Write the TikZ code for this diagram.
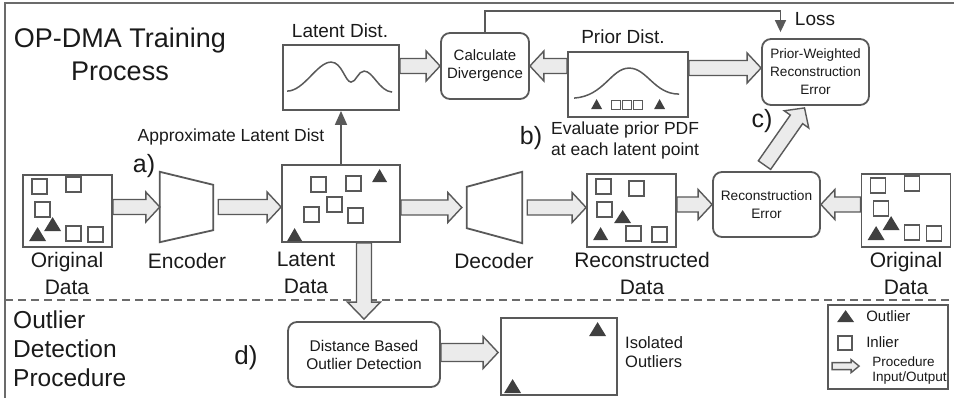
\documentclass[tikz,border=0pt]{standalone}
\usepackage{fontspec}
\setmainfont{Liberation Sans}
\usetikzlibrary{calc,arrows.meta}

\definecolor{lineclr}{HTML}{595959}
\definecolor{inkclr}{HTML}{1A1A1A}
\definecolor{outfill}{HTML}{404040}
\definecolor{pipefill}{HTML}{EBEBEB}
\definecolor{borderclr}{HTML}{6B6B6B}

\newcommand{\fsz}[2]{\fontsize{#1}{#2}\selectfont}

% block arrow between two points: shaft half-width, wing half-width, head length
\def\fashaft{7.5pt}\def\fawing{15pt}\def\fahead{14pt}
\newcommand{\fatarrow}[2]{%
  \coordinate (fa-s) at (#1);
  \coordinate (fa-e) at (#2);
  \coordinate (fa-h) at ($(fa-e)!\fahead!(fa-s)$);
  \draw[pipearrow] ($(fa-s)!\fashaft!90:(fa-e)$) -- ($(fa-h)!\fashaft!90:(fa-e)$)
    -- ($(fa-h)!\fawing!90:(fa-e)$) -- (fa-e) -- ($(fa-h)!\fawing!-90:(fa-e)$)
    -- ($(fa-h)!\fashaft!-90:(fa-e)$) -- ($(fa-s)!\fashaft!-90:(fa-e)$) -- cycle;}

% inlier square (top-left corner, optional size) and outlier triangle (base-left corner, width, height)
\newcommand{\inl}[3][15]{\draw[inlier] (#2,#3) rectangle ++(#1,#1);}
\newcommand{\outl}[4]{\fill[outfill] (#1,#2) -- ++(#3,0) -- ++(-#3/2,-#4) -- cycle;}
\newcommand{\origdata}{%
  \inl{10}{5}\inl{44}{3}\inl{13}{28}\inl{44}{52}\inl{66}{53}
  \outl{7}{67}{17}{14}\outl{22}{57}{17}{14}}

\tikzset{
  box/.style={draw=lineclr, line width=1.8pt, fill=white, inner sep=0pt},
  proc/.style={box, rounded corners=9pt, align=center, text=inkclr},
  pipearrow/.style={draw=lineclr, line width=1.4pt, fill=pipefill, line join=miter},
  inlier/.style={draw=lineclr, line width=1.3pt, fill=white},
  lbl/.style={text=inkclr, inner sep=0pt, align=center},
  link/.style={draw=lineclr, line width=1.6pt},
  border/.style={draw=borderclr, line width=2pt},
  curve/.style={draw=lineclr, line width=1.5pt},
}

\begin{document}
\begin{tikzpicture}[x=1pt,y=-1pt]
\useasboundingbox (0,0) rectangle (954,398);

% frame and section divider
\draw[border] (5,398) -- (5,3) -- (954,3);
\draw[border, dash pattern=on 8pt off 5pt] (5,300) -- (954,300);

% section titles
\node[lbl, font=\fsz{27}{33}] (title) at (120,54) {OP-DMA Training\\Process};
\node[lbl, align=left, anchor=west, font=\fsz{24.5}{29}] (odp) at (13,349) {Outlier\\Detection\\Procedure};

% data boxes
\node[box, minimum width=89, minimum height=72] (od1) at (67.5,211) {};
\node[box, minimum width=118, minimum height=77] (ld) at (341,203.5) {};
\node[box, minimum width=89, minimum height=73] (rd) at (631.5,210.5) {};
\node[box, minimum width=89, minimum height=73] (od2) at (906,210.5) {};
\node[box, minimum width=116, minimum height=65] (ldist) at (341,77.5) {};
\node[box, minimum width=120, minimum height=65] (prior) at (628,84.5) {};
\node[box, minimum width=116, minimum height=77] (iso) at (559,356.5) {};
\node[box, minimum width=120, minimum height=84] (legend) at (888,347) {};

% encoder and decoder
\node[inner sep=0pt, minimum width=53, minimum height=70] (enc) at (186.5,207) {};
\draw[box] (enc.north west) -- ($(enc.north east)+(0,13)$) -- ($(enc.south east)+(0,-12)$) -- (enc.south west) -- cycle;
\node[inner sep=0pt, minimum width=55, minimum height=71] (dec) at (494.5,207.5) {};
\draw[box] ($(dec.north west)+(0,15)$) -- (dec.north east) -- (dec.south east) -- ($(dec.south west)+(0,-15)$) -- cycle;

% processing steps
\node[proc, minimum width=88, minimum height=66, font=\fsz{15}{18}] (calc) at (485,66) {Calculate\\Divergence};
\node[proc, minimum width=107, minimum height=66, font=\fsz{13.6}{18}] (pw) at (815.5,72) {Prior-Weighted\\Reconstruction\\Error};
\node[proc, minimum width=107, minimum height=65, font=\fsz{13.7}{18}] (rerr) at (766.5,204.5) {Reconstruction\\Error};
\node[proc, minimum width=152, minimum height=65, font=\fsz{15.5}{18}] (dist) at (364,354.5) {Distance Based\\Outlier Detection};

% point clouds
\begin{scope}[shift={(od1.north west)}] \origdata \end{scope}
\begin{scope}[shift={(od2.north west)}] \origdata \end{scope}
\begin{scope}[shift={(ld.north west)}]
  \inl{30}{13}\inl{65}{12}\inl{46}{33}\inl{23}{43}\inl{67}{44}
  \outl{91}{18}{15}{13}\outl{6}{77}{15}{13}
\end{scope}
\begin{scope}[shift={(rd.north west)}]
  \inl{10}{6}\inl{43}{8}\inl{11}{29}\inl{40}{53}\inl{66}{54}
  \outl{28}{50}{17}{13}\outl{7}{67}{15}{13}
\end{scope}
\begin{scope}[shift={(iso.north west)}]
  \outl{89}{19}{17}{14}\outl{4}{76}{17}{14}
\end{scope}

% density curves
\begin{scope}[shift={(ldist.north west)}]
  \draw[curve] (5,47) .. controls (22,47) and (35,18) .. (49,18)
    .. controls (60,18) and (63,38) .. (69,38)
    .. controls (74,38) and (76,27) .. (82,27)
    .. controls (91,27) and (97,47) .. (110,48);
\end{scope}
\begin{scope}[shift={(prior.north west)}]
  \draw[curve] (7,47) .. controls (37,45) and (44,17) .. (62,17)
    .. controls (80,17) and (87,43) .. (112,43);
  \outl{24}{58}{11}{10}\outl{87}{58}{11}{10}
  \begin{scope}[inlier/.append style={line width=1.1pt}]
    \inl[9]{44}{49}\inl[9]{55}{49}\inl[9]{66}{49}
  \end{scope}
\end{scope}

% legend
\begin{scope}[shift={(legend.north west)}]
  \outl{10}{18}{17}{12}
  \inl[14]{11}{32}
  \node[lbl, anchor=west, font=\fsz{15}{18}] (lg-out) at (39,12) {Outlier};
  \node[lbl, anchor=west, font=\fsz{15}{18}] (lg-in) at (39,38) {Inlier};
  \node[lbl, anchor=west, align=left, font=\fsz{13.5}{15}] (lg-proc) at (45,66) {Procedure\\Input/Output};
  \coordinate (lg-a) at (5,62);
  \coordinate (lg-b) at (32,62);
\end{scope}
\begin{scope}
  \def\fashaft{3.5pt}\def\fawing{6.5pt}\def\fahead{8pt}
  \fatarrow{lg-a}{lg-b}
\end{scope}

% labels
\node[lbl, font=\fsz{19}{22}] (t-ldist) at (340,31) {Latent Dist.};
\node[lbl, font=\fsz{19}{22}] (t-prior) at (623,37) {Prior Dist.};
\node[lbl, font=\fsz{19}{22}] (t-loss) at (815,19) {Loss};
\node[lbl, font=\fsz{17.5}{21}] (t-approx) at (231,137) {Approximate Latent Dist};
\node[lbl, anchor=west, align=left, font=\fsz{17.5}{21}] (t-eval) at (551,140) {Evaluate prior PDF\\at each latent point};
\node[lbl, font=\fsz{25}{30}] (t-a) at (144,166) {a)};
\node[lbl, font=\fsz{25}{30}] (t-b) at (531,138) {b)};
\node[lbl, font=\fsz{25}{30}] (t-c) at (762,121) {c)};
\node[lbl, font=\fsz{26}{30}] (t-d) at (246,358) {d)};
\node[lbl, font=\fsz{21}{27}] (t-od1) at (67,273) {Original\\Data};
\node[lbl, font=\fsz{21}{27}] (t-enc) at (187,261) {Encoder};
\node[lbl, font=\fsz{21}{27}] (t-ld) at (306,273) {Latent\\Data};
\node[lbl, font=\fsz{21}{27}] (t-dec) at (494,261) {Decoder};
\node[lbl, font=\fsz{21}{27}] (t-rd) at (642,273) {Reconstructed\\Data};
\node[lbl, font=\fsz{21}{27}] (t-od2) at (906,273) {Original\\Data};
\node[lbl, anchor=west, align=left, font=\fsz{16.5}{19.5}] (t-iso) at (625,352) {Isolated\\Outliers};

% thin connectors
\draw[link, -{Triangle[width=12pt,length=14pt]}] (ld.north) -- (ldist.south);
\draw[link, -{Triangle[width=11pt,length=12pt]}] (calc.north) -- ++(0,-21) -| ($(pw.north)+(-35,-6)$);

% block arrows: training pipeline
\fatarrow{od1.east |- enc.west}{enc.west}
\fatarrow{$(enc.east)+(5,0)$}{ld.west |- enc.east}
\fatarrow{ld.east |- dec.west}{$(dec.west)+(-5,0)$}
\fatarrow{$(dec.east)+(5,0)$}{rd.west |- dec.east}
\fatarrow{rd.east |- rerr.west}{rerr.west}
\fatarrow{od2.west |- rerr.east}{rerr.east}
\fatarrow{ldist.east |- calc.west}{calc.west}
\fatarrow{prior.west |- calc.east}{calc.east}
\fatarrow{$(prior.east |- calc.east)+(0,2)$}{$(pw.west |- calc.east)+(0,2)$}
\fatarrow{$(rerr.north)+(-2,-6)$}{$(pw.south)+(-11,2)$}

% block arrows: detection procedure
\begin{scope}
  \def\fawing{16.5pt}\def\fahead{17pt}
  \fatarrow{ld.south -| dist.north}{$(dist.north)+(0,-2)$}
\end{scope}
\begin{scope}
  \def\fashaft{9pt}\def\fawing{16pt}\def\fahead{15pt}
  \fatarrow{$(dist.east)+(0,-2)$}{$(iso.west |- dist.east)+(-2,-2)$}
\end{scope}
\end{tikzpicture}
\end{document}
